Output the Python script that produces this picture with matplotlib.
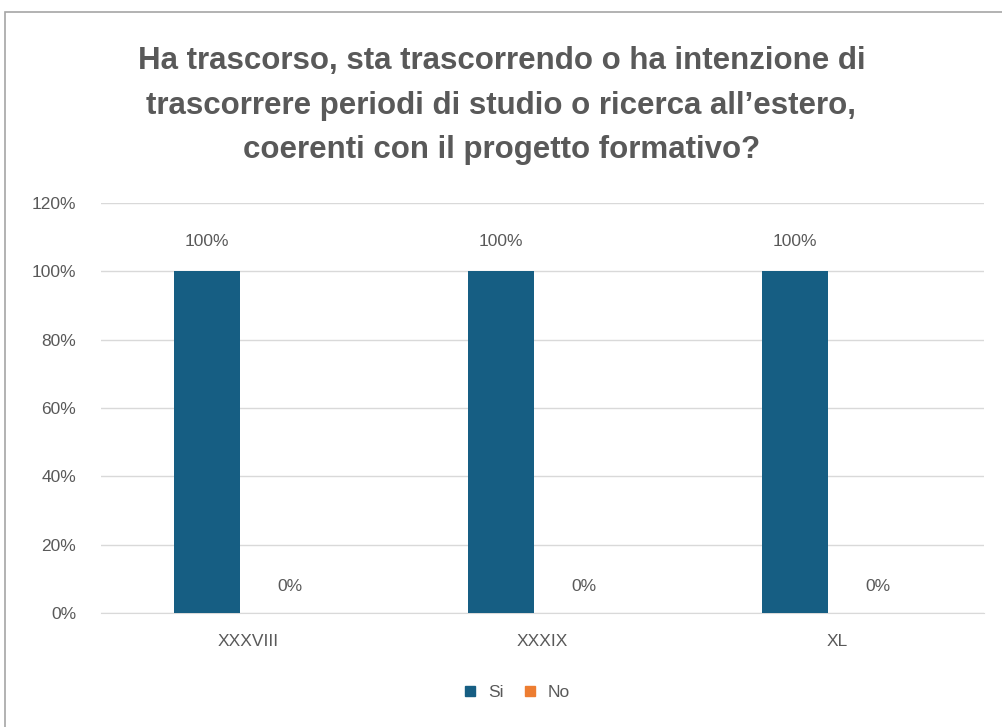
import matplotlib
matplotlib.use("Agg")
import matplotlib.pyplot as plt
import numpy as np
from matplotlib.patches import Rectangle
from matplotlib.lines import Line2D

plt.rcParams['font.family'] = ['Liberation Sans Narrow', 'Liberation Sans', 'DejaVu Sans']

categories = ["XXXVIII", "XXXIX", "XL"]
si_values = [1.00, 1.00, 1.00]
no_values = [0.00, 0.00, 0.00]
series_names = ["Si", "No"]
yticks = [0, 0.2, 0.4, 0.6, 0.8, 1.0, 1.2]
ytick_labels = ["0%", "20%", "40%", "60%", "80%", "100%", "120%"]
title = ("Ha trascorso, sta trascorrendo o ha intenzione di\n"
         "trascorrere periodi di studio o ricerca all\u2019estero,\n"
         "coerenti con il progetto formativo?")

c_si = "#165E83"
c_no = "#ED7D31"
txt = "#595959"

fig = plt.figure(figsize=(10.03, 7.27), dpi=100)
# outer border
fig.add_artist(Rectangle((5/1003, -0.05), 1.2, (727-12)/727 + 0.05, transform=fig.transFigure,
                         fill=False, edgecolor="#a6a6a6", linewidth=1.2))

ax = fig.add_axes([0.101, 0.157, 0.880, 0.564])
x = np.arange(len(categories))
w = 0.224
off = 0.141
ax.bar(x - off, si_values, w, color=c_si, zorder=3)
ax.bar(x + off, no_values, w, color=c_no, zorder=3)

for xi, v in zip(x, si_values):
    ax.text(xi - off, v + 0.088, f"{v*100:.0f}%", ha="center", va="center", fontsize=12.5, color=txt)
for xi, v in zip(x, no_values):
    ax.text(xi + off, v + 0.076, f"{v*100:.0f}%", ha="center", va="center", fontsize=12.5, color=txt)

ax.set_xlim(-0.5, len(categories) - 0.5)
ax.set_ylim(0, 1.2)
ax.set_yticks(yticks)
ax.set_yticklabels(ytick_labels)
ax.set_xticks(x)
ax.set_xticklabels(categories)
ax.tick_params(axis="both", length=0, labelsize=12.5, labelcolor=txt)
ax.tick_params(axis="y", pad=18)
ax.tick_params(axis="x", pad=15)
ax.grid(axis="y", color="#d9d9d9", linewidth=1, zorder=0)
for s in ["top", "right", "left"]:
    ax.spines[s].set_visible(False)
ax.spines["bottom"].set_color("#d9d9d9")

fig.text(0.5, 0.937, title, ha="center", va="top", fontsize=22.5, fontweight="bold",
         color=txt, linespacing=1.64)

handles = [Line2D([], [], marker="s", linestyle="none", markersize=7.5, color=c)
           for c in (c_si, c_no)]
fig.legend(handles, series_names, loc="center", bbox_to_anchor=(0.51, 0.048), ncol=2,
           frameon=False, fontsize=12.5, labelcolor=txt, handletextpad=0.05, columnspacing=0.5)

fig.savefig("out.png", dpi=100)
